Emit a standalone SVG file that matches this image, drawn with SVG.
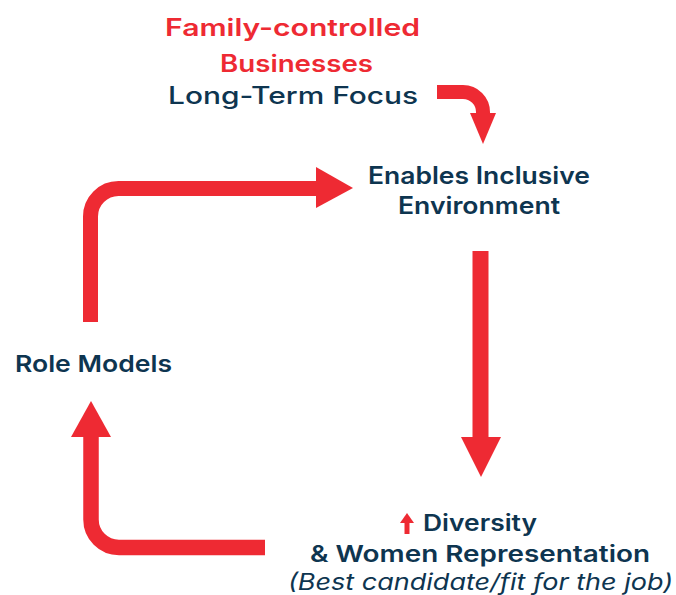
<svg xmlns="http://www.w3.org/2000/svg" width="676" height="595" viewBox="0 0 676 595">
  <style>
    .t { font-family: Inter, "Open Sans", "Liberation Sans", sans-serif; font-weight: 600; }
    .m { font-weight: 500; }
    .it { font-weight: 400; font-style: italic; }
    .navy { fill: #0E3550; }
    .red { fill: #EE2A33; }
    .shaft { fill: none; stroke: #EE2A33; }
    .head { fill: #EE2A33; }
  </style>
  <rect width="676" height="595" fill="#FFFFFF"/>

  <!-- connectors -->
  <g id="connectors">
    <!-- long-term focus to inclusive environment -->
    <path class="shaft" stroke-width="14" d="M437,92 H463 A20,20 0 0 1 483,112 V116"/>
    <polygon class="head" points="470,113 496,113 483,144"/>
    <!-- inclusive environment to diversity -->
    <path class="shaft" stroke-width="16" d="M480.5,251 V439"/>
    <polygon class="head" points="461,437 501,437 481,477"/>
    <!-- diversity to role models -->
    <path class="shaft" stroke-width="15.5" d="M265,547.5 H119 A28,28 0 0 1 91,519.5 V435"/>
    <polygon class="head" points="71,437 111,437 91,401"/>
    <!-- role models to inclusive environment -->
    <path class="shaft" stroke-width="15" d="M90.5,322 V216.5 A28,28 0 0 1 118.5,188.5 H318"/>
    <polygon class="head" points="316,167 316,208 353,188"/>
  </g>

  <g id="node-family">
    <text class="t red" x="292.5" y="36" font-size="24" text-anchor="middle" textLength="255" lengthAdjust="spacingAndGlyphs">Family-controlled</text>
    <text class="t red" x="296.5" y="72" font-size="24" text-anchor="middle" textLength="153" lengthAdjust="spacingAndGlyphs">Businesses</text>
    <text class="t m navy" x="293" y="104" font-size="24" text-anchor="middle" textLength="250" lengthAdjust="spacingAndGlyphs">Long-Term Focus</text>
  </g>

  <g id="node-environment">
    <text class="t navy" x="479" y="184" font-size="24" text-anchor="middle" textLength="222" lengthAdjust="spacingAndGlyphs">Enables Inclusive</text>
    <text class="t navy" x="479" y="214" font-size="24" text-anchor="middle" textLength="162" lengthAdjust="spacingAndGlyphs">Environment</text>
  </g>

  <g id="node-role-models">
    <text class="t navy" x="15" y="372" font-size="23.5" textLength="157" lengthAdjust="spacingAndGlyphs">Role Models</text>
  </g>

  <g id="node-diversity">
    <path class="shaft" stroke-width="5" d="M407,534 V520"/>
    <polygon class="head" points="400,523 414,523 407,513"/>
    <text class="t navy" x="423" y="531" font-size="22.5" textLength="114" lengthAdjust="spacingAndGlyphs">Diversity</text>
    <text class="t navy" x="480" y="562" font-size="22.5" text-anchor="middle" textLength="340" lengthAdjust="spacingAndGlyphs">&amp; Women Representation</text>
    <text class="t it navy" x="480.5" y="590" font-size="22.5" text-anchor="middle" textLength="385" lengthAdjust="spacingAndGlyphs">(Best candidate/fit for the job)</text>
  </g>
</svg>
